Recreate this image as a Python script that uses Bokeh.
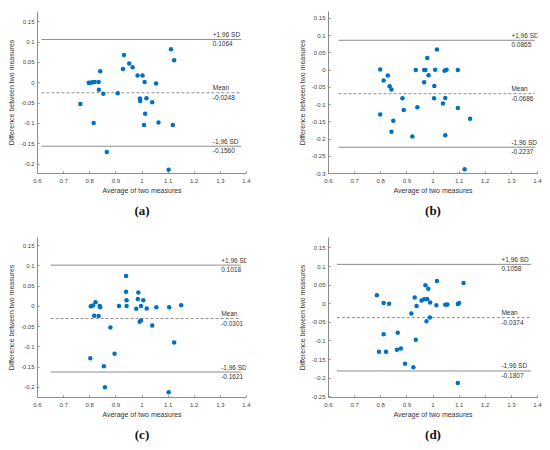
from bokeh.plotting import figure
from bokeh.layouts import column, row
from bokeh.models import Range1d, FixedTicker, Title, ColumnDataSource
from bokeh.core.properties import value
from bokeh.embed import file_html
from bokeh.resources import INLINE

# ---- data ----
a_x = [0.764, 0.796, 0.803, 0.811, 0.819, 0.834, 0.840, 0.835, 0.852, 0.815, 0.865,
       0.907, 0.927, 0.931, 0.951, 0.964, 0.983, 1.002, 1.010, 0.992, 0.993, 1.017,
       1.039, 1.012, 1.008, 1.063, 1.054, 1.111, 1.123, 1.118, 1.102]
a_y = [-0.052, 0.0, 0.0, 0.001, 0.002, 0.002, 0.028, -0.017, -0.027, -0.099, -0.170,
       -0.026, 0.034, 0.068, 0.047, 0.038, 0.018, 0.018, 0.002, -0.039, -0.045, -0.038,
       -0.048, -0.076, -0.104, -0.098, -0.002, 0.082, 0.055, -0.104, -0.214]

b_x = [0.798, 0.811, 0.827, 0.834, 0.841, 0.798, 0.848, 0.841, 0.883, 0.888, 0.934,
       0.940, 0.921, 0.966, 0.971, 0.978, 0.983, 0.966, 1.008, 1.015, 1.005, 1.004,
       1.038, 1.044, 1.052, 1.047, 1.047, 1.095, 1.095, 1.142, 1.121]
b_y = [0.002, -0.030, -0.016, -0.047, -0.056, -0.129, -0.147, -0.179, -0.082, -0.116, 0.0,
       -0.108, -0.193, 0.0, 0.0, 0.035, -0.015, -0.035, 0.001, 0.060, -0.046, -0.082,
       -0.097, -0.002, 0.001, -0.081, -0.189, 0.0, -0.110, -0.141, -0.288]

c_x = [0.804, 0.812, 0.822, 0.817, 0.838, 0.840, 0.834, 0.802, 0.879, 0.854, 0.858,
       0.895, 0.912, 0.939, 0.939, 0.941, 0.941, 0.978, 0.986, 0.984, 0.996, 0.991,
       0.996, 1.005, 1.018, 1.039, 1.055, 1.104, 1.150, 1.123, 1.102]
c_y = [0.0, 0.002, 0.010, -0.023, 0.001, -0.002, -0.024, -0.128, -0.052, -0.148, -0.200,
       -0.117, 0.001, 0.075, 0.036, 0.015, 0.001, -0.006, 0.034, 0.018, 0.001, -0.038,
       -0.035, 0.015, -0.005, -0.047, -0.002, -0.002, 0.003, -0.089, -0.212]

d_x = [0.785, 0.811, 0.832, 0.811, 0.793, 0.820, 0.865, 0.862, 0.877, 0.893, 0.925,
       0.917, 0.930, 0.937, 0.934, 0.956, 0.966, 0.971, 0.978, 0.982, 0.975, 0.989,
       0.988, 1.013, 1.015, 1.047, 1.055, 1.095, 1.100, 1.117, 1.095]
d_y = [0.023, 0.002, 0.0, -0.082, -0.129, -0.129, -0.078, -0.124, -0.120, -0.161, -0.171,
       -0.026, 0.017, -0.006, -0.097, 0.009, 0.012, 0.050, 0.013, 0.040, -0.047, 0.003,
       -0.037, -0.004, 0.061, -0.003, -0.002, -0.001, 0.002, 0.056, -0.213]

# upper limit, mean, lower limit
a_stats = [0.1064, -0.0248, -0.1560]
b_stats = [0.0865, -0.0686, -0.2237]
c_stats = [0.1018, -0.0301, -0.1621]
d_stats = [0.1058, -0.0374, -0.1807]
stat_names = ["+1,96 SD", "Mean", "-1,96 SD"]

x_ticks = [0.6, 0.7, 0.8, 0.9, 1.0, 1.1, 1.2, 1.3, 1.4]
a_yticks = [-0.2, -0.15, -0.1, -0.05, 0.0, 0.05, 0.1, 0.15]
b_yticks = [-0.3, -0.25, -0.2, -0.15, -0.1, -0.05, 0.0, 0.05, 0.1, 0.15]
c_yticks = [-0.2, -0.15, -0.1, -0.05, 0.0, 0.05, 0.1, 0.15]
d_yticks = [-0.25, -0.2, -0.15, -0.1, -0.05, 0.0, 0.05, 0.1, 0.15]

DOT = "#0072BD"
GREY = "#8c8c8c"
SANS = "Liberation Sans"


def panel(xs, ys, stats, yticks, ylim, caption, line_x, text_x,
          width, height, borders):
    left, right, top, bottom = borders
    p = figure(width=width, height=height, output_backend="svg",
               toolbar_location=None, tools="",
               x_range=Range1d(0.6, 1.4), y_range=Range1d(*ylim),
               min_border_left=left, min_border_right=right,
               min_border_top=top, min_border_bottom=bottom)
    p.grid.visible = False
    p.outline_line_color = None

    for ax, ticks in ((p.xaxis[0], x_ticks), (p.yaxis[0], yticks)):
        ax.ticker = FixedTicker(ticks=ticks, minor_ticks=[])
        ax.major_label_overrides = {t: f"{t:g}" for t in ticks}
        ax.axis_line_color = GREY
        ax.major_tick_line_color = GREY
        ax.major_tick_in = 2
        ax.major_tick_out = 0
        ax.minor_tick_line_color = None
        ax.major_label_text_font = SANS
        ax.major_label_text_font_size = "6px"
        ax.major_label_text_color = "#444444"
        ax.axis_label_text_font = SANS
        ax.axis_label_text_font_size = "7px"
        ax.axis_label_text_font_style = "normal"
        ax.axis_label_text_color = "#333333"
    p.xaxis.major_label_standoff = 5
    p.xaxis.axis_label_standoff = 1
    p.yaxis.major_label_standoff = 3
    p.yaxis.axis_label_standoff = 3
    p.xaxis.axis_label = "Average of two measures"
    p.yaxis.axis_label = "Difference between two measures"

    src = ColumnDataSource(dict(
        x0=[line_x[0]] * 3, x1=[line_x[1]] * 3, y=stats,
        tx=[text_x] * 3, name=stat_names, val=[f"{v:.4f}" for v in stats]))
    lim = ColumnDataSource(dict(x0=[line_x[0]] * 2, x1=[line_x[1]] * 2,
                                y=[stats[0], stats[2]]))
    p.segment(x0="x0", y0="y", x1="x1", y1="y", source=lim,
              line_color=GREY, line_width=1)
    p.segment(x0=line_x[0], y0=stats[1], x1=line_x[1], y1=stats[1],
              line_color=GREY, line_width=1, line_dash="3 2")
    p.text(x="tx", y="y", text="name", source=src, text_font=value(SANS),
           text_font_size="6.5px", text_color="#333333",
           text_baseline="bottom", y_offset=-1.5)
    p.text(x="tx", y="y", text="val", source=src, text_font=value(SANS),
           text_font_size="6.5px", text_color="#333333",
           text_baseline="top", y_offset=2)

    p.scatter(xs, ys, size=4.5, fill_color=DOT, line_color=None)

    p.add_layout(Title(text=caption, align="center", offset=-8, standoff=9,
                       text_font="Liberation Serif", text_font_size="13px",
                       text_font_style="bold", text_color="#111111"), "below")
    return p


pa = panel(a_x, a_y, a_stats, a_yticks, (-0.223, 0.175), "(a)",
           (0.615, 1.38), 1.271, 283, 226, (37, 37, 11, 53))
pb = panel(b_x, b_y, b_stats, b_yticks, (-0.3, 0.17), "(b)",
           (0.638, 1.39), 1.30, 267, 226, (45, 13, 11, 53))
pc = panel(c_x, c_y, c_stats, c_yticks, (-0.225, 0.17), "(c)",
           (0.65, 1.378), 1.303, 283, 224, (37, 37, 11, 52))
pd_ = panel(d_x, d_y, d_stats, d_yticks, (-0.252, 0.178), "(d)",
            (0.632, 1.375), 1.262, 267, 224, (45, 13, 10, 53))

layout = column(row(pa, pb), row(pc, pd_))

open("out.html", "w").write(file_html(layout, INLINE))
